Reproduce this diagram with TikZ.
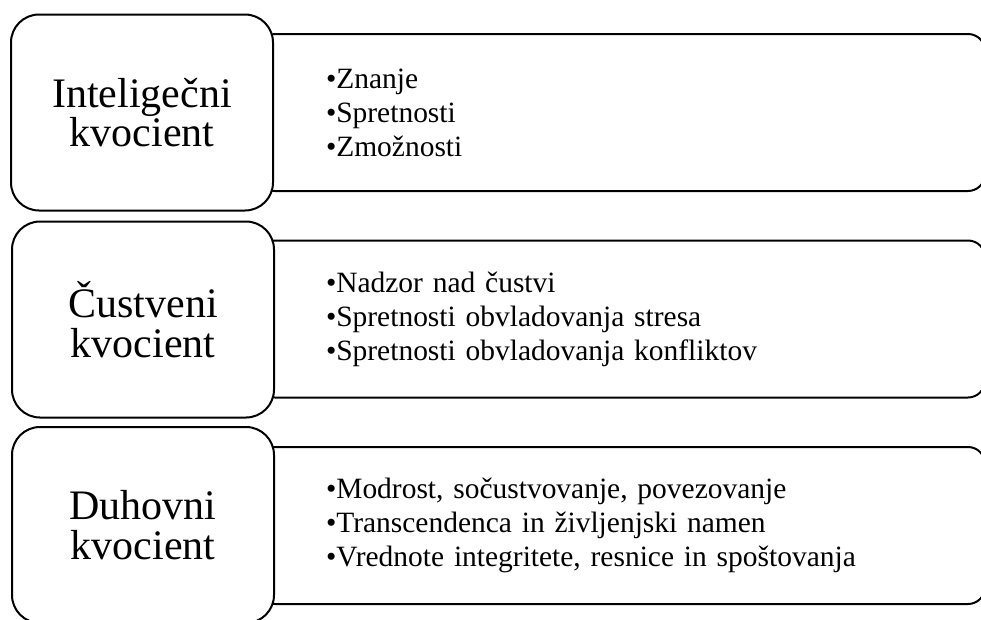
\documentclass[tikz,border=0pt]{standalone}
\usepackage{fontspec}
\setmainfont{Liberation Serif}
\usepackage{tikz}

\begin{document}
\begin{tikzpicture}[x=0.75pt,y=0.75pt,yscale=-1,xscale=1,
    kvbox/.style={draw,line width=1.5pt,fill=white,rounded corners=21pt,
      minimum width=196.5pt,minimum height=147pt,inner sep=0pt,align=center,
      font=\fontsize{31.5}{29.5}\selectfont},
    listbox/.style={draw,line width=1.5pt,rounded corners=12.75pt,
      minimum height=117.75pt,inner xsep=51pt,inner ysep=0pt,text width=443.25pt,
      align=left,font=\fontsize{22.1}{25.5}\selectfont}]
  %set diagram left start at 0, and has size of 981x619
  \clip (0,0) rectangle (981,619);

    % Lists (drawn first, the left boxes cover their left ends)
    \node [listbox] (iqlist) at (621.5,112.5) {•Znanje\\•Spretnosti\\•Zmožnosti};
    \node [listbox] (eqlist) at (621.5,319) {•Nadzor nad čustvi\\•Spretnosti obvladovanja stresa\\•Spretnosti obvladovanja konfliktov};
    \node [listbox] (sqlist) at (621.5,525.5) {•Modrost, sočustvovanje, povezovanje\\•Transcendenca in življenjski namen\\•Vrednote integritete, resnice in spoštovanja};

    %Shape: Rounded Rect
    \node [kvbox] (iq) at (142,112.5) {Inteligečni\\kvocient};
    \node [kvbox] (eq) at (143,319.5) {Čustveni\\kvocient};
    \node [kvbox] (sq) at (143,525) {Duhovni\\kvocient};

  \end{tikzpicture}
\end{document}
